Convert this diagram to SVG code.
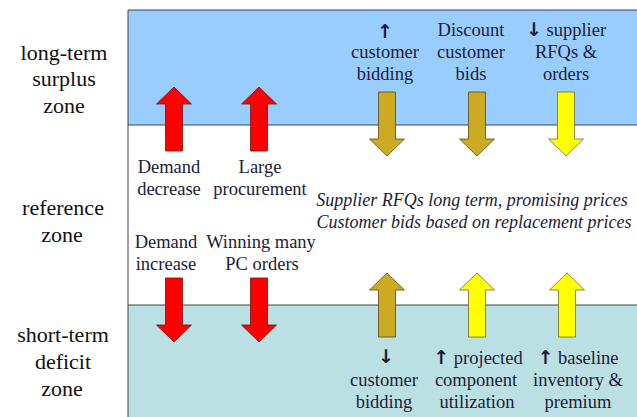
<svg xmlns="http://www.w3.org/2000/svg" width="637" height="417" viewBox="0 0 637 417" font-family="Liberation Serif, Tinos, Times New Roman, DejaVu Serif, serif">
<style>
.zl{font-size:22px;fill:#111;text-anchor:middle}
.lb{font-size:18.5px;fill:#1c1c38;text-anchor:middle}
.it{font-size:18px;font-style:italic;fill:#1c1c38;text-anchor:middle}
.ar{font-family:'DejaVu Sans',sans-serif;font-weight:bold;font-size:19px}
.red{fill:#FF0000;stroke:#7a1010;stroke-width:0.8}
.olive{fill:#CCAA22;stroke:#5a4a10;stroke-width:0.8}
.yel{fill:#FFFF00;stroke:#6b6b30;stroke-width:0.8}
</style>
<defs>
<path id="arr" d="M0,0 L17.5,17 L8.5,17 L8.5,64 L-8.5,64 L-8.5,17 L-17.5,17 Z"/>
</defs>
<g id="zones">
<rect x="128" y="10" width="515" height="115" fill="#99CCFF"/>
<rect x="128" y="125" width="515" height="180" fill="#FFFFFF"/>
<rect x="128" y="305" width="515" height="120" fill="#BBE0E3"/>
<path d="M128,420 L128,10 L640,10 M128,125 L640,125 M128,305 L640,305" fill="none" stroke="#444" stroke-width="1"/>
</g>
<g id="zone-labels">
<text class="zl" x="64" y="60">long-term</text>
<text class="zl" x="64" y="86">surplus</text>
<text class="zl" x="64" y="113">zone</text>
<text class="zl" x="63" y="215">reference</text>
<text class="zl" x="62" y="242">zone</text>
<text class="zl" x="63" y="342">short-term</text>
<text class="zl" x="63" y="369">deficit</text>
<text class="zl" x="62" y="396">zone</text>
</g>
<g id="connectors">
<use href="#arr" class="red" transform="translate(174,87)"/>
<use href="#arr" class="red" transform="translate(259,87)"/>
<use href="#arr" class="red" transform="translate(174,342) scale(1,-1)"/>
<use href="#arr" class="red" transform="translate(259,342) scale(1,-1)"/>
<use href="#arr" class="olive" transform="translate(387,156) scale(1,-1)"/>
<use href="#arr" class="olive" transform="translate(477,156) scale(1,-1)"/>
<use href="#arr" class="yel" transform="translate(566,156) scale(1,-1)"/>
<use href="#arr" class="olive" transform="translate(387,273)"/>
<use href="#arr" class="yel" transform="translate(477,273)"/>
<use href="#arr" class="yel" transform="translate(567,273)"/>
</g>
<g id="demand-decrease"><text class="lb" x="169" y="173">Demand</text><text class="lb" x="169" y="195">decrease</text></g>
<g id="large-procurement"><text class="lb" x="260" y="173">Large</text><text class="lb" x="260" y="195">procurement</text></g>
<g id="demand-increase"><text class="lb" x="166" y="248">Demand</text><text class="lb" x="166" y="270">increase</text></g>
<g id="winning-orders"><text class="lb" x="261" y="248">Winning many</text><text class="lb" x="262" y="270">PC orders</text></g>
<g id="reference-text">
<text class="it" x="472" y="206">Supplier RFQs long term, promising prices</text>
<text class="it" x="474" y="228">Customer bids based on replacement prices</text>
</g>
<g id="up-customer-bidding"><text class="lb" x="385" y="38"><tspan class="ar">↑</tspan></text><text class="lb" x="385" y="58">customer</text><text class="lb" x="385" y="80">bidding</text></g>
<g id="discount-bids"><text class="lb" x="471" y="36">Discount</text><text class="lb" x="471" y="58">customer</text><text class="lb" x="471" y="80">bids</text></g>
<g id="down-supplier-rfqs"><text class="lb" x="566" y="36"><tspan class="ar">↓</tspan> supplier</text><text class="lb" x="566" y="58">RFQs &amp;</text><text class="lb" x="566" y="80">orders</text></g>
<g id="down-customer-bidding"><text class="lb" x="386" y="363"><tspan class="ar">↓</tspan></text><text class="lb" x="384" y="386">customer</text><text class="lb" x="384" y="408">bidding</text></g>
<g id="up-projected-utilization"><text class="lb" x="478" y="364"><tspan class="ar">↑</tspan> projected</text><text class="lb" x="476" y="386">component</text><text class="lb" x="477" y="408">utilization</text></g>
<g id="up-baseline-inventory"><text class="lb" x="578" y="364"><tspan class="ar">↑</tspan> baseline</text><text class="lb" x="578" y="386">inventory &amp;</text><text class="lb" x="578" y="408">premium</text></g>
</svg>
